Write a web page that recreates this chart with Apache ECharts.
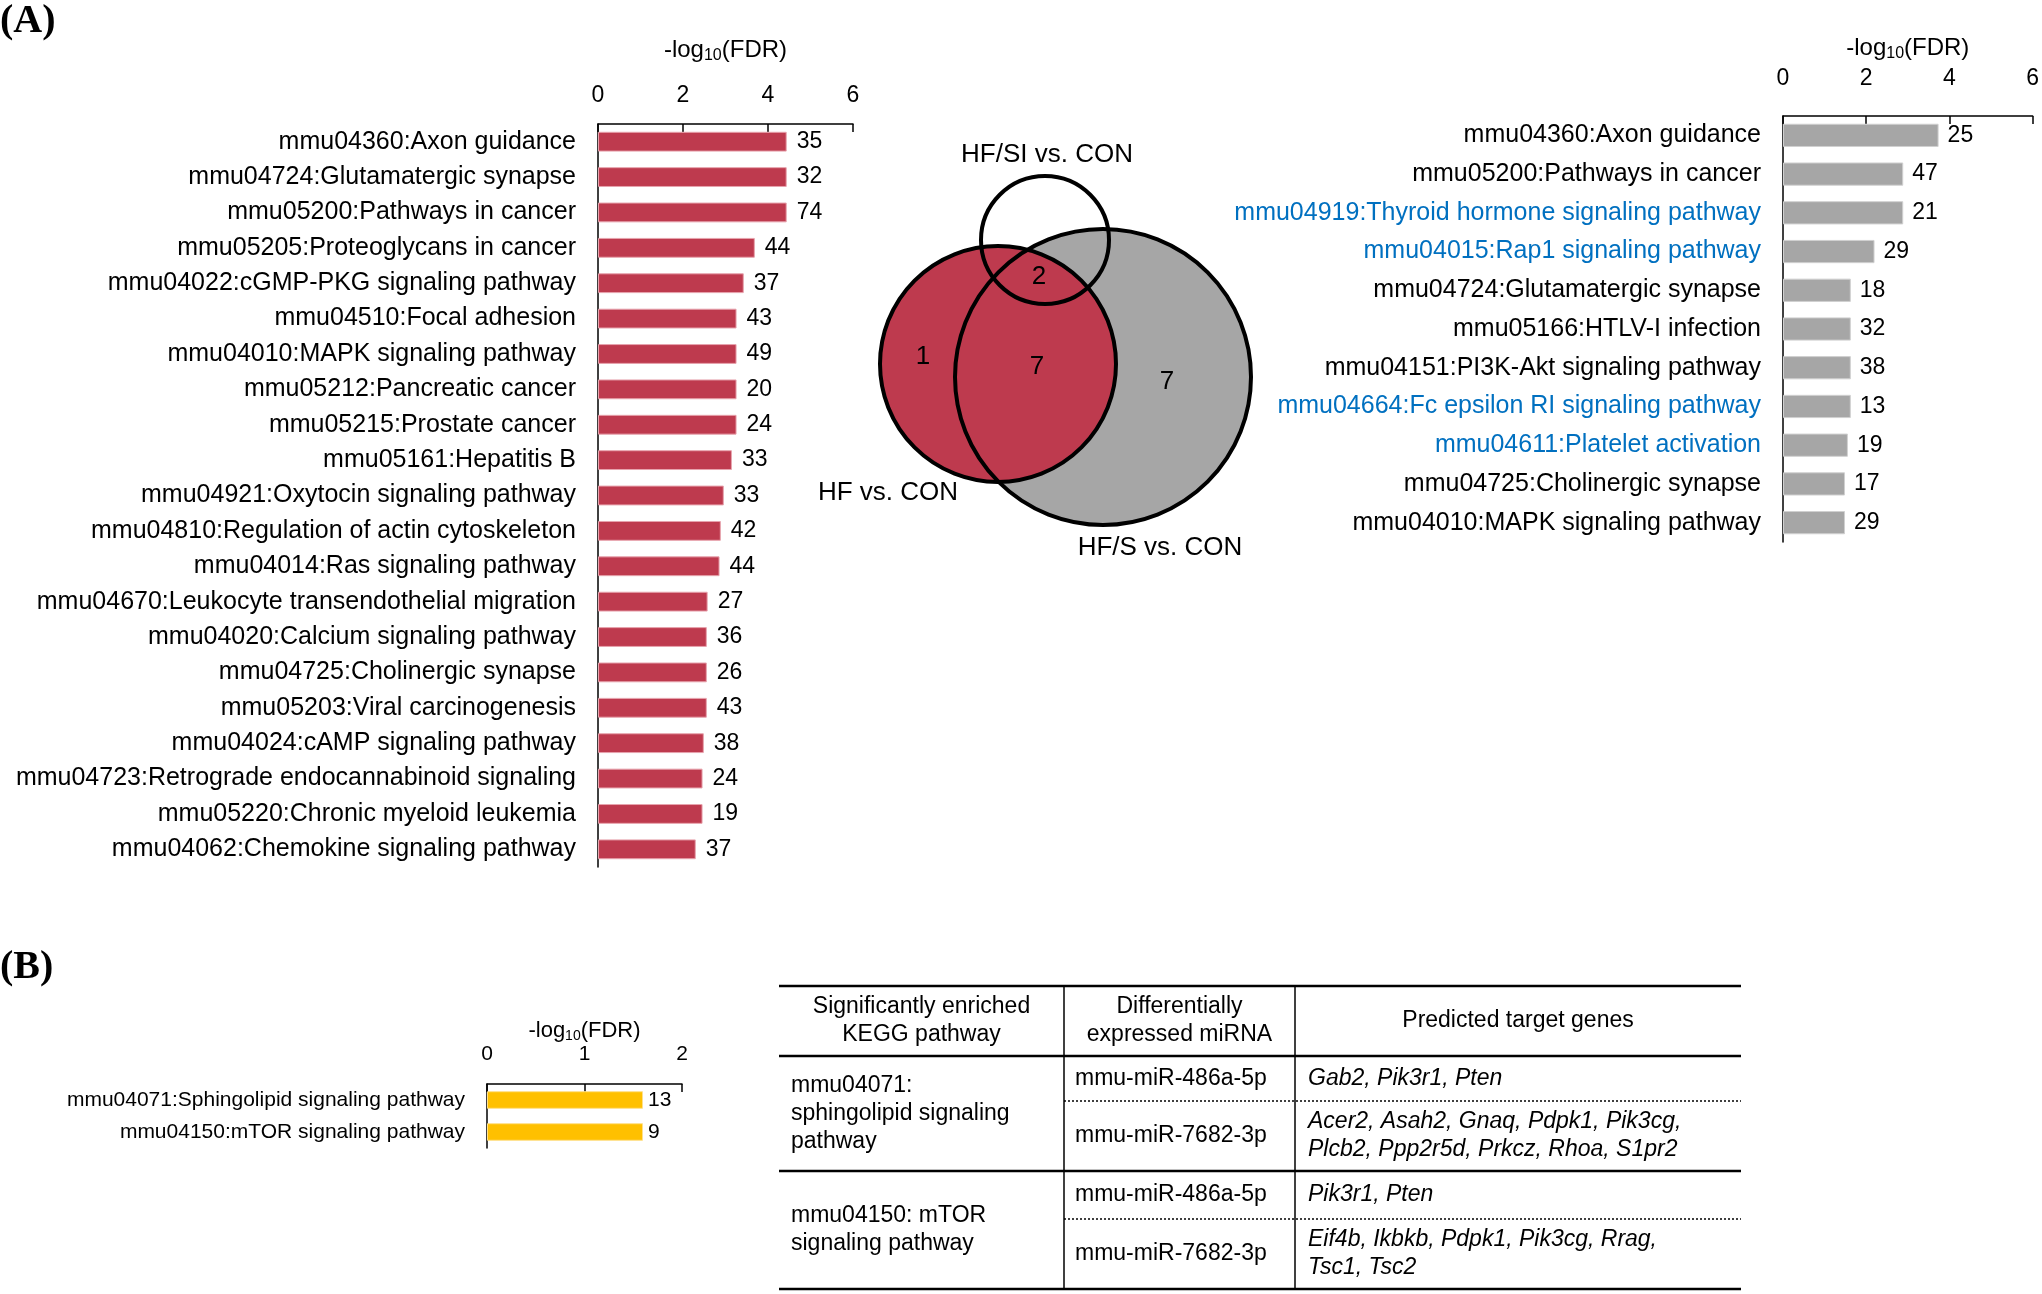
<!DOCTYPE html>
<html>
<head>
<meta charset="utf-8">
<script src="https://cdn.jsdelivr.net/npm/echarts@6/dist/echarts.min.js"></script>
<style>
html,body{margin:0;padding:0;background:#fff;}
#c{width:2042px;height:1294px;}
</style>
</head>
<body>
<div id="c"></div>
<script>
// ---------- DATA ----------
const hfCategories = ["mmu04360:Axon guidance","mmu04724:Glutamatergic synapse","mmu05200:Pathways in cancer","mmu05205:Proteoglycans in cancer","mmu04022:cGMP-PKG signaling pathway","mmu04510:Focal adhesion","mmu04010:MAPK signaling pathway","mmu05212:Pancreatic cancer","mmu05215:Prostate cancer","mmu05161:Hepatitis B","mmu04921:Oxytocin signaling pathway","mmu04810:Regulation of actin cytoskeleton","mmu04014:Ras signaling pathway","mmu04670:Leukocyte transendothelial migration","mmu04020:Calcium signaling pathway","mmu04725:Cholinergic synapse","mmu05203:Viral carcinogenesis","mmu04024:cAMP signaling pathway","mmu04723:Retrograde endocannabinoid signaling","mmu05220:Chronic myeloid leukemia","mmu04062:Chemokine signaling pathway"];
const hfLogFDR = [4.44,4.44,4.44,3.69,3.43,3.26,3.26,3.26,3.26,3.15,2.96,2.89,2.86,2.58,2.56,2.56,2.56,2.49,2.46,2.46,2.30];
const hfCounts = [35,32,74,44,37,43,49,20,24,33,33,42,44,27,36,26,43,38,24,19,37];

const hfsCategories = ["mmu04360:Axon guidance","mmu05200:Pathways in cancer","mmu04919:Thyroid hormone signaling pathway","mmu04015:Rap1 signaling pathway","mmu04724:Glutamatergic synapse","mmu05166:HTLV-I infection","mmu04151:PI3K-Akt signaling pathway","mmu04664:Fc epsilon RI signaling pathway","mmu04611:Platelet activation","mmu04725:Cholinergic synapse","mmu04010:MAPK signaling pathway"];
const hfsLogFDR = [3.74,2.89,2.89,2.20,1.63,1.63,1.63,1.63,1.56,1.49,1.49];
const hfsCounts = [25,47,21,29,18,32,38,13,19,17,29];
const hfsHighlighted = [false,false,true,true,false,false,false,true,true,false,false];

const hfsiCategories = ["mmu04071:Sphingolipid signaling pathway","mmu04150:mTOR signaling pathway"];
const hfsiLogFDR = [1.60,1.60];
const hfsiCounts = [13,9];

const vennSetNames = ["HF vs. CON","HF/S vs. CON","HF/SI vs. CON"];
const vennRegionCounts = {hfOnly:1, hfAndHfs:7, allThree:2, hfsOnly:7};

const tableHeader = ["Significantly enriched\nKEGG pathway","Differentially\nexpressed miRNA","Predicted target genes"];
const tablePathways = ["mmu04071:\nsphingolipid signaling\npathway","mmu04150: mTOR\nsignaling pathway"];
const tableMiRNA = [["mmu-miR-486a-5p","mmu-miR-7682-3p"],["mmu-miR-486a-5p","mmu-miR-7682-3p"]];
const tableGenes = [["Gab2, Pik3r1, Pten","Acer2, Asah2, Gnaq, Pdpk1, Pik3cg,\nPlcb2, Ppp2r5d, Prkcz, Rhoa, S1pr2"],["Pik3r1, Pten","Eif4b, Ikbkb, Pdpk1, Pik3cg, Rrag,\nTsc1, Tsc2"]];

// ---------- STYLE ----------
const FONT = "'Liberation Sans', Arial, sans-serif";
const RED = '#be3a4e', GRAY = '#a6a6a6', YELLOW = '#ffc000', BLUE = '#0070c0';

const chart = echarts.init(document.getElementById('c'), null, {renderer:'canvas'});

function xAxisCfg(gi, max, interval, margin, gap, fs, tfs){
  return {
    gridIndex: gi, type:'value', position:'top', min:0, max:max, interval:interval,
    name: '{a|-log}{s|10}{a|(FDR)}', nameLocation:'middle', nameGap: gap,
    nameTextStyle:{ rich:{ a:{fontSize:tfs, fontFamily:FONT, color:'#000'}, s:{fontSize:Math.round(tfs*0.65), fontFamily:FONT, color:'#000', padding:[Math.round(tfs*0.45),0,0,0]} } },
    axisLine:{show:true, lineStyle:{color:'#000', width:1.5}},
    axisTick:{show:true, inside:true, length:8, lineStyle:{color:'#000', width:1.5}},
    axisLabel:{fontSize:fs, fontFamily:FONT, color:'#000', margin:margin},
    splitLine:{show:false}
  };
}
function yAxisCfg(gi, data, fs, colorFn){
  return {
    gridIndex: gi, type:'category', inverse:true, data:data,
    axisLine:{show:true, lineStyle:{color:'#000', width:1.5}},
    axisTick:{show:false},
    axisLabel:{fontSize:fs, fontFamily:FONT, color: colorFn || '#000', margin:22},
    splitLine:{show:false}
  };
}
function barSeries(gi, vals, counts, color, border, gapPct, fs, dist){
  return {
    type:'bar', xAxisIndex:gi, yAxisIndex:gi, data:vals, barCategoryGap:gapPct,
    itemStyle:{color:color, borderColor:border, borderWidth:1},
    label:{show:true, position:'right', distance:dist, fontSize:fs, fontFamily:FONT, color:'#000',
      formatter:(p)=>String(counts[p.dataIndex])},
    silent:true, animation:false
  };
}

// ---------- VENN LAYOUT ----------
const venn = {
  hf:{cx:998, cy:364, r:118},
  hfs:{cx:1103, cy:377, r:148},
  hfsi:{cx:1045, cy:240, r:64}
};
function t(x,y,text,fs,opts){
  opts = opts || {};
  return {type:'text', z:20, style:{x:x, y:y, text:text, fill:'#000',
    font: (opts.italic?'italic ':'') + (opts.bold?'bold ':'') + fs + 'px ' + (opts.family||FONT),
    align: opts.align||'center', textAlign: opts.align||'center',
    verticalAlign:'middle', textVerticalAlign:'middle', lineHeight: opts.lh||Math.round(fs*1.2)}};
}
const graphics = [];
graphics.push(t(0,22,'(A)',40,{bold:true,align:'left',family:"'Liberation Serif', 'Times New Roman', serif"}));
graphics.push(t(0,968,'(B)',40,{bold:true,align:'left',family:"'Liberation Serif', 'Times New Roman', serif"}));
graphics.push({type:'circle', z:5, shape:{cx:venn.hfs.cx, cy:venn.hfs.cy, r:venn.hfs.r}, style:{fill:GRAY, stroke:null}});
graphics.push({type:'circle', z:6, shape:{cx:venn.hf.cx, cy:venn.hf.cy, r:venn.hf.r}, style:{fill:RED, stroke:null}});
['hfs','hf','hfsi'].forEach((k,i)=>{
  graphics.push({type:'circle', z:10+i, shape:{cx:venn[k].cx, cy:venn[k].cy, r:venn[k].r}, style:{fill:null, stroke:'#000', lineWidth:4}});
});
graphics.push(t(venn.hf.cx-75, venn.hf.cy-7, String(vennRegionCounts.hfOnly), 26));
graphics.push(t(venn.hf.cx+39, venn.hf.cy+3, String(vennRegionCounts.hfAndHfs), 26));
graphics.push(t(venn.hfsi.cx-6, venn.hfsi.cy+37, String(vennRegionCounts.allThree), 26));
graphics.push(t(venn.hfs.cx+64, venn.hfs.cy+5, String(vennRegionCounts.hfsOnly), 26));
graphics.push(t(venn.hf.cx-110, venn.hf.cy+129, vennSetNames[0], 26));
graphics.push(t(venn.hfs.cx+57, venn.hfs.cy+171, vennSetNames[1], 26));
graphics.push(t(venn.hfsi.cx+2, venn.hfsi.cy-85, vennSetNames[2], 26));

// ---------- TABLE LAYOUT ----------
const tb = {x0:779, x1:1741, c1:1064, c2:1295, yTop:986, yHead:1056, yMid:1171, yBot:1289, dots:[1101,1219]};
function hline(y,x0,x1,w,dash){
  return {type:'line', z:15, shape:{x1:x0,y1:y,x2:x1,y2:y}, style:{stroke:'#000', lineWidth:w, lineDash:dash||null}};
}
function vline(x,y0,y1,w){
  return {type:'line', z:15, shape:{x1:x,y1:y0,x2:x,y2:y1}, style:{stroke:'#000', lineWidth:w}};
}
graphics.push(hline(tb.yTop, tb.x0, tb.x1, 2.5));
graphics.push(hline(tb.yHead, tb.x0, tb.x1, 2.5));
graphics.push(hline(tb.yMid, tb.x0, tb.x1, 2.5));
graphics.push(hline(tb.yBot, tb.x0, tb.x1, 2.5));
tb.dots.forEach(y=>graphics.push(hline(y, tb.c1, tb.x1, 1.5, [2,2])));
graphics.push(vline(tb.c1, tb.yTop, tb.yBot, 1.5));
graphics.push(vline(tb.c2, tb.yTop, tb.yBot, 1.5));
const TFS = 23, TLH = 28;
const hy = (tb.yTop+tb.yHead)/2;
graphics.push(t((tb.x0+tb.c1)/2, hy, tableHeader[0], TFS, {lh:TLH}));
graphics.push(t((tb.c1+tb.c2)/2, hy, tableHeader[1], TFS, {lh:TLH}));
graphics.push(t((tb.c2+tb.x1)/2, hy, tableHeader[2], TFS, {lh:TLH}));
const groups = [[tb.yHead, tb.dots[0], tb.yMid],[tb.yMid, tb.dots[1], tb.yBot]];
groups.forEach((g,gi)=>{
  graphics.push(t(tb.x0+12, (g[0]+g[2])/2, tablePathways[gi], TFS, {align:'left', lh:TLH}));
  const sub = [[g[0],g[1]],[g[1],g[2]]];
  sub.forEach((s,si)=>{
    const cy = (s[0]+s[1])/2;
    graphics.push(t(tb.c1+11, cy, tableMiRNA[gi][si], TFS, {align:'left', lh:TLH}));
    graphics.push(t(tb.c2+13, cy, tableGenes[gi][si], TFS, {align:'left', lh:TLH, italic:true}));
  });
});

// ---------- OPTION ----------
const option = {
  backgroundColor:'#fff',
  animation:false,
  grid:[
    {left:598, top:124, width:255, height:743, containLabel:false},
    {left:1783, top:116, width:253, height:426, containLabel:false},
    {left:487, top:1084, width:195, height:64, containLabel:false}
  ],
  xAxis:[
    xAxisCfg(0, 6, 2, 17, 60, 23, 24),
    xAxisCfg(1, 6, 2, 26, 54, 23, 24),
    xAxisCfg(2, 2, 1, 19, 40, 21, 22)
  ],
  yAxis:[
    yAxisCfg(0, hfCategories, 25),
    yAxisCfg(1, hfsCategories, 25, (v,i)=> hfsHighlighted[i] ? BLUE : '#000'),
    yAxisCfg(2, hfsiCategories, 21)
  ],
  series:[
    barSeries(0, hfLogFDR, hfCounts, RED, '#e7a3ad', '44%', 23, 10),
    barSeries(1, hfsLogFDR, hfsCounts, GRAY, '#d0d0d0', '40%', 23, 9),
    barSeries(2, hfsiLogFDR, hfsiCounts, YELLOW, '#ffe08a', '45%', 21, 5)
  ],
  graphic: graphics
};
chart.setOption(option);
</script>
</body>
</html>
